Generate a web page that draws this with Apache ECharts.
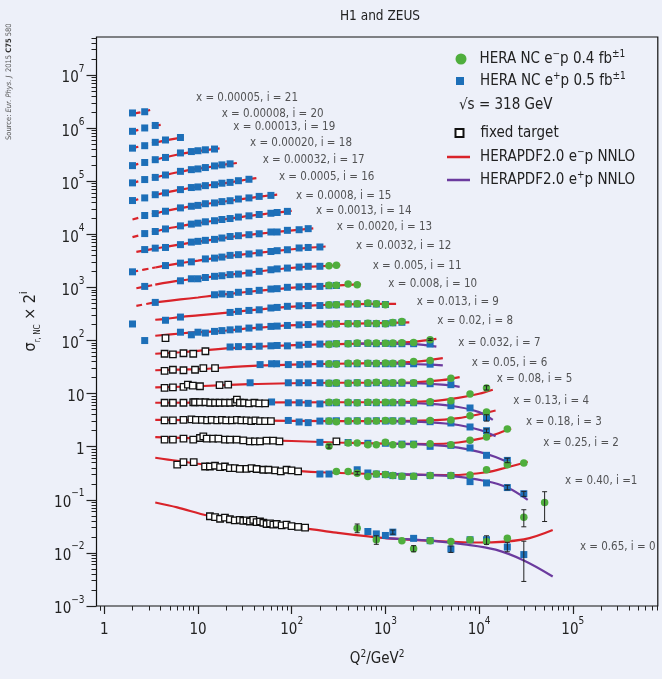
<!DOCTYPE html>
<html><head><meta charset="utf-8">
<script src="https://cdn.jsdelivr.net/npm/echarts@6/dist/echarts.min.js"></script>
<style>html,body{margin:0;padding:0;background:#edf0f9;}#c{width:662px;height:679px;}</style>
</head><body><div id="c"></div>
<script>
// ---------- data (sigma_r values, plotted as sigma * 2^i) ----------
const xBins = ['0.65','0.40','0.25','0.18','0.13','0.08','0.05','0.032','0.02','0.013','0.008','0.005','0.0032','0.0020','0.0013','0.0008','0.0005','0.00032','0.00020','0.00013','0.00008','0.00005'];
const labelAnchors = [[119000,0.0127],[82600,0.222],[48400,1.17],[31700,2.96],[23200,7.19],[15400,19.1],[8340,37.7],[6000,89.7],[3580,229],[2158,522],[1073,1160],[732,2560],[485,5970],[302,13700],[182,27000],[111,53300],[73.1,118000],[49,254000],[35.9,524000],[23.8,1030000],[17.9,1870000],[9.52,3690000]];
const xTicks = [1,10,100,1000,10000,100000];
const yTicks = [1e-3,1e-2,1e-1,1,10,100,1e3,1e4,1e5,1e6,1e7];

// HERA NC e+p (blue squares), per bin i = 0..21 : [Q2, sigma]
const ePlus = [
 [[650,0.0253],[800,0.0228],[1000,0.0213],[1200,0.0246],[2000,0.0188],[3000,0.017],[5000,0.0118],[8000,0.0177],[12000,0.0177],[20000,0.0129],[30000,0.0093]],
 [[200,0.153],[250,0.153],[500,0.184],[650,0.16],[800,0.153],[1000,0.149],[1200,0.143],[1500,0.139],[2000,0.139],[3000,0.143],[5000,0.143],[8000,0.11],[12000,0.104],[20000,0.085],[30000,0.065]],
 [[200,0.302],[400,0.3],[650,0.29],[1000,0.29],[1500,0.28],[2000,0.28],[3000,0.254],[5000,0.265],[8000,0.237],[12000,0.172],[20000,0.138]],
 [[92,0.39],[120,0.365],[150,0.355],[200,0.38],[250,0.38],[300,0.385],[400,0.38],[500,0.385],[650,0.38],[800,0.385],[1000,0.38],[1200,0.385],[1500,0.38],[2000,0.38],[3000,0.37],[5000,0.35],[8000,0.294],[12000,0.25]],
 [[61,0.435],[92,0.42],[120,0.42],[150,0.41],[200,0.40],[250,0.42],[300,0.42],[400,0.42],[500,0.42],[650,0.425],[800,0.42],[1000,0.42],[1200,0.42],[1500,0.42],[2000,0.42],[3000,0.42],[5000,0.37],[8000,0.335],[12000,0.22]],
 [[36,0.50],[92,0.50],[120,0.50],[150,0.50],[200,0.50],[250,0.49],[300,0.49],[400,0.49],[500,0.50],[650,0.49],[800,0.50],[1000,0.49],[1200,0.49],[1500,0.49],[2000,0.49],[3000,0.48],[5000,0.46]],
 [[46,0.55],[61,0.57],[69,0.57],[92,0.55],[122,0.55],[150,0.56],[200,0.57],[250,0.56],[300,0.57],[400,0.57],[500,0.57],[650,0.58],[800,0.57],[1000,0.57],[1200,0.57],[1500,0.57],[2000,0.57],[3000,0.56]],
 [[22,0.59],[27,0.60],[35,0.60],[45,0.61],[60,0.62],[70,0.63],[90,0.62],[120,0.64],[150,0.66],[200,0.67],[250,0.67],[300,0.68],[400,0.68],[500,0.69],[650,0.69],[800,0.68],[1000,0.69],[1200,0.68],[1500,0.68],[2000,0.68],[3000,0.67]],
 [[2.7,0.39],[6.5,0.56],[8.5,0.50],[10,0.56],[12,0.54],[15,0.58],[18,0.60],[22,0.62],[27,0.64],[35,0.67],[45,0.70],[60,0.72],[70,0.73],[90,0.75],[120,0.77],[150,0.78],[200,0.80],[250,0.80],[300,0.81],[400,0.81],[500,0.81],[650,0.82],[800,0.81],[1000,0.81],[1200,0.84],[1500,0.86]],
 [[2,0.40],[4.5,0.47],[6.5,0.54],[22,0.66],[27,0.69],[35,0.72],[45,0.74],[60,0.80],[70,0.82],[90,0.86],[120,0.88],[150,0.89],[200,0.89],[250,0.91],[300,0.92],[400,0.95],[500,0.95],[650,0.97],[800,0.95],[1000,0.93]],
 [[3.5,0.51],[15,0.71],[18,0.735],[22,0.72],[27,0.79],[35,0.82],[45,0.86],[60,0.91],[70,0.925],[90,0.98],[120,1.0],[150,1.02],[200,1.02],[250,1.05],[300,1.06]],
 [[2.7,0.51],[6.5,0.65],[8.5,0.71],[10,0.71],[12,0.75],[15,0.79],[18,0.81],[22,0.85],[27,0.87],[35,0.91],[45,0.98],[60,1.05],[70,1.09],[90,1.13],[120,1.18],[150,1.22],[200,1.22]],
 [[2,0.48],[4.5,0.63],[6.5,0.70],[8.5,0.74],[12,0.84],[15,0.87],[18,0.91],[22,0.98],[27,1.01],[35,1.04],[45,1.09],[60,1.16],[70,1.2],[90,1.25],[120,1.35],[150,1.38],[200,1.41]],
 [[2.7,0.63],[3.5,0.67],[4.5,0.69],[6.5,0.78],[8.5,0.87],[10,0.90],[12,0.94],[15,0.98],[18,1.04],[22,1.11],[27,1.15],[35,1.20],[45,1.25],[60,1.35],[70,1.35],[90,1.45],[120,1.49],[150,1.56]],
 [[2.7,0.63],[3.5,0.69],[4.5,0.77],[6.5,0.88],[8.5,0.95],[10,0.99],[12,1.05],[15,1.10],[18,1.16],[22,1.21],[27,1.29],[35,1.36],[45,1.44],[60,1.52],[70,1.57],[90,1.65]],
 [[2.7,0.69],[3.5,0.75],[4.5,0.83],[6.5,0.96],[8.5,1.03],[10,1.07],[12,1.15],[15,1.19],[18,1.26],[22,1.31],[27,1.41],[35,1.48],[45,1.58],[60,1.65]],
 [[2,0.66],[2.7,0.74],[3.5,0.85],[4.5,0.92],[6.5,1.06],[8.5,1.16],[10,1.19],[12,1.26],[15,1.31],[18,1.40],[22,1.45],[27,1.56],[35,1.66]],
 [[2,0.71],[2.7,0.82],[3.5,0.90],[4.5,1.0],[6.5,1.17],[8.5,1.26],[10,1.30],[12,1.38],[15,1.48],[18,1.55],[22,1.62]],
 [[2,0.75],[2.7,0.86],[3.5,0.97],[4.5,1.07],[6.5,1.30],[8.5,1.38],[10,1.43],[12,1.49],[15,1.54]],
 [[2,0.80],[2.7,0.89],[3.5,1.03],[4.5,1.14],[6.5,1.27]],
 [[2,0.83],[2.7,0.96],[3.5,1.07]],
 [[2,0.92],[2.7,0.97]]
];

// HERA NC e-p (green circles)
const eMinus = [
 [[500,0.029],[800,0.0177],[1500,0.017],[2000,0.012],[3000,0.017],[5000,0.0164],[8000,0.0177],[12000,0.0164],[20000,0.0188],[30000,0.047],[50000,0.089]],
 [[300,0.17],[400,0.17],[500,0.158],[650,0.138],[800,0.153],[1000,0.149],[1200,0.143],[1500,0.139],[2000,0.139],[3000,0.143],[5000,0.143],[8000,0.146],[12000,0.184],[20000,0.229],[30000,0.247]],
 [[250,0.254],[400,0.294],[500,0.294],[650,0.273],[800,0.273],[1000,0.302],[1200,0.273],[1500,0.273],[2000,0.273],[3000,0.285],[5000,0.273],[8000,0.33],[12000,0.382],[20000,0.54]],
 [[250,0.38],[300,0.37],[400,0.38],[500,0.38],[650,0.38],[800,0.38],[1000,0.39],[1200,0.38],[1500,0.38],[2000,0.38],[3000,0.39],[5000,0.40],[8000,0.48],[12000,0.56]],
 [[250,0.43],[300,0.43],[400,0.43],[500,0.42],[650,0.43],[800,0.43],[1000,0.43],[1200,0.43],[1500,0.43],[2000,0.43],[3000,0.44],[5000,0.46],[8000,0.615],[12000,0.80]],
 [[250,0.49],[300,0.50],[400,0.49],[500,0.50],[650,0.50],[800,0.51],[1000,0.50],[1200,0.50],[1500,0.51],[2000,0.50],[3000,0.53],[5000,0.61]],
 [[250,0.57],[300,0.56],[400,0.58],[500,0.59],[650,0.58],[800,0.58],[1000,0.59],[1200,0.58],[1500,0.59],[2000,0.63],[3000,0.66]],
 [[250,0.66],[300,0.68],[400,0.68],[500,0.70],[650,0.70],[800,0.70],[1000,0.69],[1200,0.70],[1500,0.71],[2000,0.72],[3000,0.81]],
 [[250,0.80],[300,0.80],[400,0.81],[500,0.81],[650,0.83],[800,0.82],[1000,0.81],[1200,0.855],[1500,0.89]],
 [[250,0.92],[300,0.92],[400,0.96],[500,0.96],[650,0.99],[800,0.96],[1000,0.92]],
 [[250,1.07],[300,1.07],[400,1.13],[500,1.10]],
 [[250,1.25],[300,1.27]],
 [],[],[],[],[],[],[],[],[],[]
];

// fixed target (open squares)
const fixedTarget = [
 [[13.4,0.049],[15.2,0.047],[17.2,0.044],[19.4,0.046],[21.9,0.043],[24.7,0.041],[27.9,0.042],[30.4,0.040],[33,0.041],[35.8,0.039],[38.9,0.042],[42.2,0.038],[45.9,0.039],[49.8,0.037],[54,0.035],[58.7,0.036],[63.7,0.034],[69.2,0.035],[78.1,0.033],[88.2,0.034],[99.5,0.032],[117,0.031],[139,0.030]],
 [[6,0.229],[7,0.257],[9,0.257],[11.9,0.212],[13.4,0.212],[15.2,0.219],[17.2,0.207],[19.4,0.212],[21.9,0.198],[24.7,0.198],[27.9,0.192],[33,0.192],[37.3,0.198],[42.2,0.19],[49.8,0.184],[56.4,0.184],[66.6,0.179],[76.5,0.172],[88.2,0.184],[99.5,0.179],[117,0.172]],
 [[4.4,0.34],[5.4,0.34],[7,0.354],[8.9,0.34],[10.5,0.365],[11.4,0.39],[12.4,0.354],[14.5,0.354],[16.5,0.354],[19.4,0.34],[21.9,0.34],[25.9,0.34],[30.4,0.33],[35.8,0.315],[40.5,0.315],[45.9,0.315],[53.9,0.325],[63.5,0.325],[74,0.315],[300,0.315]],
 [[4.4,0.39],[5.4,0.39],[7,0.40],[8.5,0.41],[9.5,0.40],[11,0.40],[12.5,0.39],[14,0.40],[16,0.39],[18,0.40],[20,0.39],[23,0.39],[26,0.40],[29,0.39],[33,0.39],[37,0.38],[41,0.39],[46,0.38],[52,0.38],[60,0.38]],
 [[4.4,0.42],[5.4,0.42],[7,0.42],[8.9,0.43],[9.3,0.43],[10.5,0.43],[12,0.43],[13.5,0.42],[15.2,0.42],[17,0.42],[19.4,0.42],[22,0.42],[25,0.43],[26,0.48],[28,0.42],[31,0.42],[35,0.41],[40,0.42],[45,0.41],[52,0.41]],
 [[4.4,0.40],[5.4,0.41],[7,0.42],[7.8,0.46],[8.8,0.44],[10.5,0.43],[17,0.45],[21,0.46]],
 [[4.4,0.42],[5.4,0.44],[7,0.43],[9.3,0.44],[11.4,0.47],[15.2,0.47]],
 [[4.4,0.44],[5.4,0.43],[7,0.45],[8.9,0.44],[12,0.49]],
 [[4.5,0.435]],
 [],[],[],[],[],[],[],[],[],[],[],[],[]
];

// HERAPDF2.0 e-p NNLO (red), Q2 >= 3.5 solid
const pdfMinus = [
 [[3.5,0.089],[6,0.072],[13,0.05],[40,0.036],[140,0.029],[300,0.024],[1000,0.019],[3000,0.017],[10000,0.0157],[30000,0.018],[61000,0.027]],
 [[3.5,0.31],[6,0.27],[15,0.22],[50,0.19],[200,0.165],[1000,0.152],[5000,0.146],[12000,0.165],[20000,0.205],[33000,0.26]],
 [[3.5,0.38],[10,0.36],[30,0.34],[100,0.32],[300,0.30],[1000,0.285],[3000,0.28],[6000,0.30],[10000,0.35],[15000,0.43],[22000,0.55]],
 [[3.5,0.40],[30,0.39],[300,0.38],[1000,0.38],[3000,0.39],[6000,0.43],[10000,0.51],[15000,0.60]],
 [[3.5,0.42],[30,0.425],[300,0.43],[1000,0.43],[3000,0.45],[6000,0.52],[10000,0.62],[14000,0.74]],
 [[3.5,0.41],[10,0.43],[35,0.47],[100,0.49],[300,0.50],[1000,0.50],[2000,0.51],[4000,0.56],[6200,0.64]],
 [[3.5,0.43],[10,0.45],[30,0.51],[100,0.55],[300,0.57],[1000,0.59],[2000,0.62],[4100,0.73]],
 [[3.5,0.44],[6.5,0.47],[10,0.50],[22,0.56],[45,0.60],[90,0.63],[200,0.66],[500,0.68],[1000,0.70],[2000,0.74],[3500,0.84]],
 [[3.5,0.48],[6.5,0.53],[10,0.56],[15,0.58],[22,0.61],[35,0.66],[60,0.71],[90,0.75],[150,0.78],[300,0.80],[800,0.83],[1800,0.86]],
 [[3.5,0.48],[4.5,0.50],[6.5,0.54],[10,0.58],[15,0.62],[22,0.66],[35,0.72],[60,0.79],[90,0.84],[150,0.88],[250,0.92],[500,0.95],[1300,0.96]],
 [[3.5,0.51],[6.5,0.58],[10,0.63],[15,0.69],[22,0.74],[35,0.81],[60,0.89],[90,0.95],[150,1.0],[250,1.05],[400,1.09],[550,1.12]],
 [[3.5,0.55],[6.5,0.66],[10,0.72],[15,0.79],[22,0.85],[35,0.93],[60,1.04],[90,1.12],[150,1.2],[250,1.25],[330,1.28]],
 [[3.5,0.58],[4.5,0.63],[6.5,0.70],[10,0.78],[15,0.87],[22,0.96],[35,1.05],[60,1.16],[90,1.25],[150,1.36],[230,1.44]],
 [[3.5,0.66],[4.5,0.71],[6.5,0.79],[10,0.89],[15,0.98],[22,1.08],[35,1.19],[60,1.32],[90,1.42],[150,1.55],[170,1.58]],
 [[3.5,0.69],[4.5,0.77],[6.5,0.87],[10,0.99],[15,1.10],[22,1.21],[35,1.36],[60,1.52],[90,1.65],[100,1.68]],
 [[3.5,0.75],[4.5,0.84],[6.5,0.95],[10,1.08],[15,1.20],[22,1.31],[35,1.47],[60,1.66],[70,1.71]],
 [[3.5,0.84],[4.5,0.93],[6.5,1.06],[10,1.20],[15,1.32],[22,1.45],[35,1.66],[42,1.74]],
 [[3.5,0.90],[4.5,1.0],[6.5,1.15],[10,1.31],[15,1.46],[22,1.62],[26,1.68]],
 [[3.5,0.97],[4.5,1.08],[6.5,1.24],[8.5,1.35],[10,1.41],[12,1.47],[15,1.54],[17,1.58]],
 [[3.5,1.02],[4.5,1.12],[6.5,1.26],[7,1.29]],
 [[3.5,1.06],[4,1.10]],
 []
];
// red extrapolation below Q2 = 3.5 (dashed)
const pdfMinusLow = [
 [],[],[],[],[],[],[],[],[],[],
 [[2.2,0.44],[3.5,0.51]],
 [[2.2,0.47],[3.5,0.55]],
 [[2,0.48],[3.5,0.58]],
 [[2.2,0.57],[3.5,0.66]],
 [[2,0.54],[2.7,0.62],[3.5,0.69]],
 [[2,0.58],[2.7,0.67],[3.5,0.75]],
 [[2,0.65],[2.7,0.75],[3.5,0.84]],
 [[2,0.71],[2.7,0.81],[3.5,0.90]],
 [[2,0.76],[2.7,0.87],[3.5,0.97]],
 [[2,0.80],[2.7,0.91],[3.5,1.02]],
 [[2,0.83],[2.7,0.95],[3.5,1.06]],
 [[2.1,0.9],[2.7,0.98],[3.3,1.08]]
];
// HERAPDF2.0 e+p NNLO (purple), where it separates from e-p
const pdfPlus = [
 [[1000,0.019],[3000,0.017],[7000,0.0145],[15000,0.0115],[30000,0.0072],[61000,0.0036]],
 [[1000,0.152],[5000,0.14],[12000,0.112],[20000,0.085],[33000,0.05]],
 [[1000,0.285],[3000,0.27],[6000,0.24],[10000,0.2],[15000,0.16],[22000,0.12]],
 [[1000,0.38],[3000,0.36],[6000,0.32],[10000,0.26],[15000,0.196]],
 [[1000,0.43],[3000,0.40],[6000,0.35],[10000,0.28],[14000,0.2]],
 [[800,0.50],[2000,0.49],[4000,0.46],[6200,0.42]],
 [[700,0.58],[1500,0.57],[3000,0.55],[4100,0.53]],
 [[500,0.68],[1000,0.685],[2000,0.67],[3500,0.60]],
 [],[],[],[],[],[],[],[],[],[],[],[],[],[]
];
// error bars: [bin i, Q2, sigma low, sigma high]
const errorBars = [
 [0,30000,0.0029,0.0166],[0,50000,0.039,0.142],[0,30000,0.031,0.065],[0,20000,0.0105,0.0158],[0,12000,0.0145,0.021],
 [0,500,0.024,0.035],[0,800,0.0145,0.021],[0,2000,0.0105,0.0137],[0,5000,0.0102,0.0135],[0,1200,0.0225,0.027],
 [1,500,0.148,0.17],[1,20000,0.077,0.094],[1,30000,0.058,0.072],
 [2,250,0.235,0.272],[2,20000,0.125,0.152],
 [4,12000,0.19,0.25],[4,12000,0.73,0.88],[3,12000,0.23,0.27],[7,3000,0.78,0.84]
];

// ---------- chart ----------
const FONT = "'Liberation Sans Narrow','DejaVu Sans Condensed','Roboto',sans-serif";
const X_MIN = 0.826, X_MAX = 8.07e5, Y_MIN = 1e-3, Y_MAX = 5.2e7;
const scale = (pts, i) => pts.map(p => [p[0], p[1] * Math.pow(2, i)]);
const minorOf = (lo, hi) => { const out = []; for (let e = -4; e <= 8; e++) for (let k = 2; k <= 9; k++) { const v = k * Math.pow(10, e); if (v > lo && v < hi) out.push(v); } return out; };
const xMinor = minorOf(X_MIN, X_MAX).concat([0.9]);
const yMinor = minorOf(Y_MIN, Y_MAX);
const supRich = {
  b: {fontSize: 15, lineHeight: 22, verticalAlign: 'bottom', fontFamily: FONT, color: '#222'},
  s: {fontSize: 10, lineHeight: 12, verticalAlign: 'top', fontFamily: FONT, color: '#222'}
};
const powLabel = v => { const e = Math.round(Math.log10(v)); if (e === 0) return '{b|1}'; if (e === 1) return '{b|10}'; return '{b|10}{s|' + (e < 0 ? '\u2212' + (-e) : e) + '}'; };

const blueData = [], greenData = [], ftData = [], errData = [];
ePlus.forEach((b, i) => blueData.push(...scale(b, i)));
eMinus.forEach((b, i) => greenData.push(...scale(b, i)));
fixedTarget.forEach((b, i) => ftData.push(...scale(b, i)));
errorBars.forEach(e => errData.push([e[1], e[2] * Math.pow(2, e[0]), e[3] * Math.pow(2, e[0])]));

const RED = '#d9232a', PURPLE = '#6b3a9e';
const series = [];
pdfMinus.forEach((c, i) => { if (c.length) series.push({name: 'pdfMinus', type: 'line', data: scale(c, i), symbol: 'none', smooth: 0.35, z: 2, lineStyle: {color: RED, width: 2.2}, itemStyle: {color: RED}, silent: true}); });
pdfMinusLow.forEach((c, i) => { if (c.length) series.push({name: 'pdfMinus', type: 'line', data: scale(c, i), symbol: 'none', smooth: 0.35, z: 2, lineStyle: {color: RED, width: 2.2, type: [6, 4]}, itemStyle: {color: RED}, silent: true}); });
pdfPlus.forEach((c, i) => { if (c.length) series.push({name: 'pdfPlus', type: 'line', data: scale(c, i), symbol: 'none', smooth: 0.35, z: 2, lineStyle: {color: PURPLE, width: 2.2}, itemStyle: {color: PURPLE}, silent: true}); });
series.push({name: 'ePlus', type: 'scatter', data: blueData, symbol: 'rect', symbolSize: 7, z: 3, itemStyle: {color: '#1d6fb8', opacity: 1}});
series.push({name: 'eMinus', type: 'scatter', data: greenData, symbol: 'circle', symbolSize: 7.5, z: 4, itemStyle: {color: '#4fae3d', opacity: 1}});
series.push({name: 'FT', type: 'scatter', data: ftData, symbol: 'rect', symbolSize: 6.5, z: 4, itemStyle: {color: '#ffffff', borderColor: '#111', borderWidth: 1.3, opacity: 1}});
series.push({name: 'err', type: 'custom', data: errData, z: 5, silent: true,
  renderItem: (params, api) => {
    const p1 = api.coord([api.value(0), api.value(1)]), p2 = api.coord([api.value(0), api.value(2)]);
    const st = {stroke: '#222', lineWidth: 1};
    return {type: 'group', children: [
      {type: 'line', shape: {x1: p1[0], y1: p1[1], x2: p2[0], y2: p2[1]}, style: st},
      {type: 'line', shape: {x1: p1[0] - 2.5, y1: p1[1], x2: p1[0] + 2.5, y2: p1[1]}, style: st},
      {type: 'line', shape: {x1: p2[0] - 2.5, y1: p2[1], x2: p2[0] + 2.5, y2: p2[1]}, style: st}
    ]};
  }});
series.push({name: 'binLabels', type: 'scatter', data: labelAnchors, symbolSize: 0, z: 6, silent: true,
  label: {show: true, position: 'right', distance: 0, color: '#2a2a2a', fontSize: 11.5, fontFamily: FONT,
    formatter: p => 'x = ' + xBins[p.dataIndex] + (p.dataIndex === 1 ? ', i =1' : ', i = ' + p.dataIndex)}});

const legendBase = {orient: 'vertical', padding: 0, itemGap: 0, selectedMode: false,
  textStyle: {fontSize: 15, color: '#222', fontFamily: FONT, lineHeight: 20,
    rich: {sup: {fontSize: 10, lineHeight: 12, verticalAlign: 'top', fontFamily: FONT, color: '#222'}}},
  formatter: n => ({eMinus: 'HERA NC e{sup|\u2212}p 0.4 fb{sup|\u00b11}', ePlus: 'HERA NC e{sup|+}p 0.5 fb{sup|\u00b11}', FT: 'fixed target', pdfMinus: 'HERAPDF2.0 e{sup|\u2212}p NNLO', pdfPlus: 'HERAPDF2.0 e{sup|+}p NNLO'})[n]};
const withPad = p => Object.assign({}, legendBase.textStyle, {padding: [0, 0, 0, p]});

const option = {
  backgroundColor: '#edf0f9',
  animation: false,
  textStyle: {fontFamily: FONT},
  title: {text: 'H1 and ZEUS', left: 380, top: 9, textAlign: 'center', padding: 0,
    textStyle: {fontSize: 13.5, fontWeight: 'normal', color: '#222', fontFamily: FONT}},
  grid: {left: 96.5, right: 4.2, top: 37, bottom: 73, show: true, borderColor: '#111', borderWidth: 1.2, backgroundColor: 'transparent'},
  legend: [
    Object.assign({}, legendBase, {data: [{name: 'eMinus', icon: 'circle'}], left: 455.5, top: 49, itemWidth: 11, itemHeight: 11, textStyle: withPad(8)}),
    Object.assign({}, legendBase, {data: [{name: 'ePlus', icon: 'rect'}], left: 456, top: 71, itemWidth: 8, itemHeight: 8, textStyle: withPad(11)}),
    Object.assign({}, legendBase, {data: [{name: 'FT', icon: 'rect'}], left: 454.5, top: 123, itemWidth: 8, itemHeight: 8, textStyle: withPad(12)}),
    Object.assign({}, legendBase, {data: [{name: 'pdfMinus', icon: 'rect', itemStyle: {color: RED}}], left: 447, top: 147, itemWidth: 23, itemHeight: 2.5, textStyle: withPad(5)}),
    Object.assign({}, legendBase, {data: [{name: 'pdfPlus', icon: 'rect', itemStyle: {color: PURPLE}}], left: 447, top: 170, itemWidth: 23, itemHeight: 2.5, textStyle: withPad(5)})
  ],
  xAxis: [
    {type: 'log', logBase: 10, min: X_MIN, max: X_MAX, position: 'bottom',
      name: 'Q{s|2}/GeV{s|2}', nameLocation: 'middle', nameGap: 43,
      nameTextStyle: {fontSize: 15, color: '#222', fontFamily: FONT, lineHeight: 20, rich: supRich},
      axisLine: {show: false}, splitLine: {show: false}, minorTick: {show: false},
      axisTick: {show: true, inside: false, length: 8, customValues: xTicks, lineStyle: {color: '#222', width: 1.2}},
      axisLabel: {customValues: xTicks, margin: 10, formatter: powLabel, rich: supRich, fontSize: 15, color: '#222', showMinLabel: true, showMaxLabel: true}},
    {type: 'log', logBase: 10, min: X_MIN, max: X_MAX, position: 'bottom',
      axisLine: {show: false}, splitLine: {show: false},
      axisTick: {show: true, inside: false, length: 4.5, customValues: xMinor, lineStyle: {color: '#222', width: 1}},
      axisLabel: {show: false}}
  ],
  yAxis: [
    {type: 'log', logBase: 10, min: Y_MIN, max: Y_MAX, position: 'left',
      name: '{g|\u03c3}{sub|r, NC}{g| \u00d7 2}{sup|i}', nameLocation: 'middle', nameGap: 55, nameRotate: 90,
      nameTextStyle: {fontSize: 16, color: '#222', fontFamily: FONT, rich: {
        g: {fontSize: 16, lineHeight: 22, verticalAlign: 'middle', fontFamily: FONT, color: '#222'},
        sub: {fontSize: 8, lineHeight: 10, verticalAlign: 'bottom', fontFamily: FONT, color: '#222'},
        sup: {fontSize: 10, lineHeight: 12, verticalAlign: 'top', fontFamily: FONT, color: '#222'}}},
      axisLine: {show: false}, splitLine: {show: false},
      axisTick: {show: true, inside: false, length: 10, customValues: yTicks, lineStyle: {color: '#222', width: 1.2}},
      axisLabel: {customValues: yTicks, margin: 12, formatter: powLabel, rich: supRich, fontSize: 15, color: '#222'}},
    {type: 'log', logBase: 10, min: Y_MIN, max: Y_MAX, position: 'left',
      axisLine: {show: false}, splitLine: {show: false},
      axisTick: {show: true, inside: false, length: 5, customValues: yMinor, lineStyle: {color: '#222', width: 1}},
      axisLabel: {show: false}}
  ],
  graphic: [
    {type: 'text', left: 459, top: 98, style: {text: '\u221as = 318 GeV', fontSize: 15, fill: '#222', fontFamily: FONT}},
    {type: 'text', x: 9, y: 140, rotation: Math.PI / 2, style: {text: '{n|Source: }{it|Eur. Phys. J} {n|2015 }{bd|C75}{n| 580}', align: 'left', verticalAlign: 'middle',
      rich: {n: {fontSize: 7.5, fill: '#555', fontFamily: FONT}, it: {fontSize: 7.5, fill: '#555', fontStyle: 'italic', fontFamily: FONT}, bd: {fontSize: 7.5, fill: '#333', fontWeight: 'bold', fontFamily: FONT}}}}
  ],
  series: series
};
echarts.init(document.getElementById('c'), null, {renderer: 'canvas'}).setOption(option);
</script></body></html>
